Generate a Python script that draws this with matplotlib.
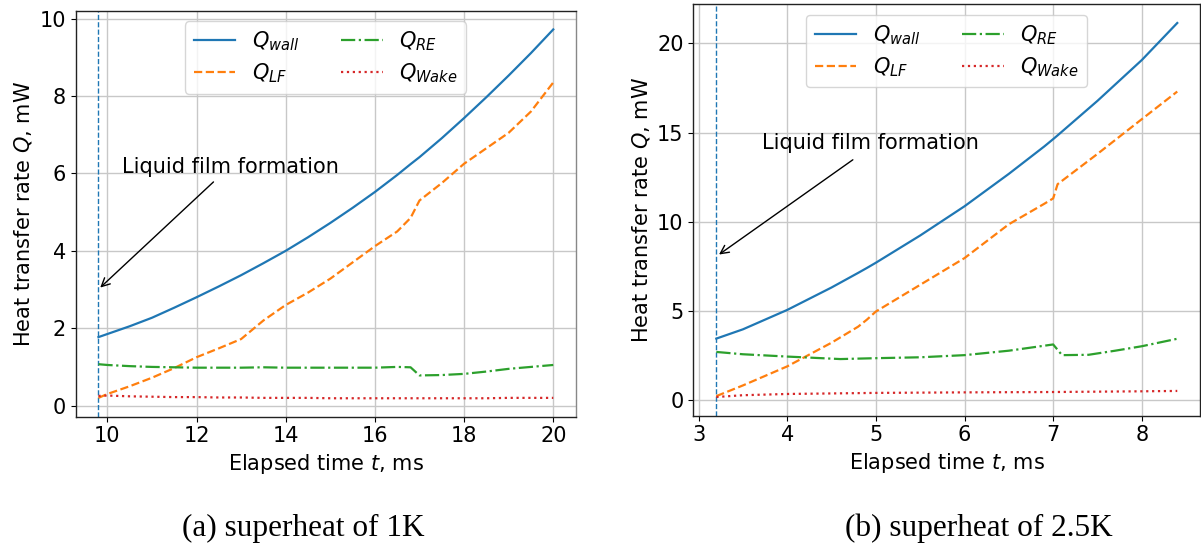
import matplotlib
matplotlib.use("Agg")
import matplotlib.pyplot as plt

# ---- (a) superheat of 1 K ----
t_a = [9.8, 10.0, 10.5, 11.0, 11.5, 12.0, 12.5, 13.0, 13.5, 14.0, 14.5, 15.0,
       15.5, 16.0, 16.5, 16.8, 17.0, 17.5, 18.0, 18.5, 19.0, 19.5, 20.0]
q_wall_a = [1.77, 1.85, 2.05, 2.27, 2.53, 2.80, 3.08, 3.37, 3.68, 4.00, 4.35, 4.72,
            5.11, 5.52, 5.96, 6.24, 6.42, 6.91, 7.43, 7.97, 8.53, 9.11, 9.72]
q_lf_a = [0.20, 0.30, 0.50, 0.72, 0.97, 1.25, 1.48, 1.72, 2.20, 2.60, 2.92, 3.28,
          3.70, 4.12, 4.50, 4.85, 5.30, 5.75, 6.25, 6.65, 7.05, 7.60, 8.35]
q_re_a = [1.07, 1.05, 1.02, 1.00, 0.99, 0.98, 0.98, 0.98, 0.99, 0.98, 0.98, 0.98,
          0.98, 0.98, 1.00, 0.99, 0.78, 0.79, 0.82, 0.88, 0.95, 1.00, 1.05]
q_wake_a = [0.25, 0.26, 0.24, 0.23, 0.22, 0.22, 0.21, 0.21, 0.20, 0.20, 0.20, 0.19,
            0.19, 0.19, 0.19, 0.19, 0.19, 0.19, 0.19, 0.19, 0.20, 0.20, 0.20]
onset_a = 9.8
arrow_head_a = (9.84, 3.05)
arrow_tail_a = (12.38, 5.78)
note_pos_a = (10.32, 6.17)

# ---- (b) superheat of 2.5 K ----
t_b = [3.2, 3.5, 4.0, 4.5, 4.8, 4.9, 5.0, 5.5, 6.0, 6.5, 6.9, 7.0, 7.05,
       7.5, 8.0, 8.4]
q_wall_b = [3.43, 3.95, 5.04, 6.30, 7.12, 7.40, 7.69, 9.22, 10.86, 12.68, 14.22,
            14.63, 14.84, 16.78, 19.07, 21.15]
q_lf_b = [0.20, 0.80, 1.87, 3.20, 4.10, 4.50, 4.95, 6.45, 7.95, 9.85, 11.00,
          11.30, 12.10, 13.80, 15.75, 17.30]
t_re_b = [3.2, 3.5, 4.0, 4.3, 4.6, 5.0, 5.5, 6.0, 6.5, 7.0, 7.1, 7.4, 7.7, 8.0, 8.4]
q_re_b = [2.68, 2.55, 2.42, 2.35, 2.28, 2.33, 2.38, 2.50, 2.75, 3.10, 2.50, 2.52,
          2.75, 3.00, 3.42]
t_wake_b = [3.2, 3.5, 4.0, 5.0, 6.0, 7.0, 8.0, 8.4]
q_wake_b = [0.15, 0.25, 0.32, 0.38, 0.41, 0.43, 0.47, 0.49]
onset_b = 3.2
arrow_head_b = (3.23, 8.15)
arrow_tail_b = (4.74, 13.47)
note_pos_b = (3.72, 14.4)

labels = [r"$Q_{wall}$", r"$Q_{LF}$", r"$Q_{RE}$", r"$Q_{Wake}$"]
captions = ["(a) superheat of 1K", "(b) superheat of 2.5K"]

plt.rcParams["font.family"] = ["DejaVu Sans"]
plt.rcParams["font.size"] = 15
plt.rcParams["mathtext.fontset"] = "dejavusans"

W, H = 1201, 549
fig = plt.figure(figsize=(W / 100, H / 100), dpi=100)


def box(l, t, r, b):
    return [l / W, 1 - b / H, (r - l) / W, (b - t) / H]


ax_a = fig.add_axes(box(75.7, 11, 576, 416.7))
ax_b = fig.add_axes(box(693.3, 4.3, 1200.3, 415.7))

blue, orange, green, red = "#1f77b4", "#ff7f0e", "#2ca02c", "#d62728"


def draw(ax, t, wall, lf, t_re, re, t_wk, wake, onset, head, tail, note):
    ax.axvline(onset, color=blue, ls="--", lw=1.0)
    ax.plot(t, wall, color=blue, ls="-", lw=1.6, label=labels[0])
    ax.plot(t, lf, color=orange, ls="--", lw=1.6, label=labels[1])
    ax.plot(t_re, re, color=green, ls="-.", lw=1.6, label=labels[2])
    ax.plot(t_wk, wake, color=red, ls=":", lw=1.6, label=labels[3])
    ax.grid(True, color="#c8c8c8", lw=1.0)
    ax.set_axisbelow(True)
    ax.set_xlabel(r"Elapsed time $t$, ms")
    ax.set_ylabel(r"Heat transfer rate $Q$, mW")
    ax.annotate("", xy=head, xytext=tail,
                arrowprops=dict(arrowstyle="->", color="black", lw=1.0,
                                shrinkA=0, shrinkB=0))
    ax.text(note[0], note[1], "Liquid film formation", ha="left", va="center")
    ax.legend(loc="upper center", ncol=2, fontsize=15, columnspacing=2.0,
              handlelength=2.0, borderpad=0.4, labelspacing=0.4)
    for s in ax.spines.values():
        s.set_color("#222222")
        s.set_linewidth(1.0)


draw(ax_a, t_a, q_wall_a, q_lf_a, t_a, q_re_a, t_a, q_wake_a,
     onset_a, arrow_head_a, arrow_tail_a, note_pos_a)
ax_a.set_xticks([10, 12, 14, 16, 18, 20])
ax_a.set_yticks([0, 2, 4, 6, 8, 10])
ax_a.spines["right"].set_color("#888888")

draw(ax_b, t_b, q_wall_b, q_lf_b, t_re_b, q_re_b, t_wake_b, q_wake_b,
     onset_b, arrow_head_b, arrow_tail_b, note_pos_b)
ax_b.set_xticks([3, 4, 5, 6, 7, 8])
ax_b.set_yticks([0, 5, 10, 15, 20])

fig.text(303.5 / W, 1 - 528 / H, captions[0], ha="center", va="center",
         family="Liberation Serif", fontsize=22.5)
fig.text(979 / W, 1 - 528 / H, captions[1], ha="center", va="center",
         family="Liberation Serif", fontsize=22.5)

fig.savefig("out.png", dpi=100)
